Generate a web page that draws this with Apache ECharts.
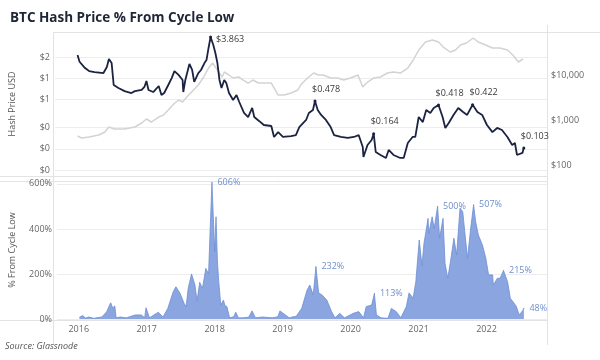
<!DOCTYPE html>
<html><head><meta charset="utf-8">
<script src="https://cdn.jsdelivr.net/npm/echarts@6/dist/echarts.min.js"></script>
<style>html,body{margin:0;padding:0;background:#fff}#c{width:600px;height:360px}</style>
</head><body><div id="c"></div>
<script>
// ---- data ----
const hashYears = [2016.01,2016.04,2016.12,2016.18,2016.26,2016.39,2016.44,2016.47,2016.51,2016.54,2016.61,2016.70,2016.80,2016.85,2016.95,2016.99,2017.02,2017.05,2017.12,2017.20,2017.24,2017.28,2017.34,2017.39,2017.43,2017.49,2017.55,2017.56,2017.59,2017.65,2017.69,2017.72,2017.78,2017.82,2017.87,2017.90,2017.93,2017.96,2018.00,2018.03,2018.06,2018.09,2018.12,2018.16,2018.19,2018.23,2018.29,2018.34,2018.38,2018.45,2018.51,2018.57,2018.60,2018.67,2018.74,2018.85,2018.89,2018.95,2019.02,2019.14,2019.21,2019.26,2019.28,2019.36,2019.40,2019.46,2019.49,2019.53,2019.58,2019.65,2019.72,2019.77,2019.87,2019.97,2020.06,2020.13,2020.19,2020.20,2020.26,2020.32,2020.35,2020.38,2020.45,2020.53,2020.57,2020.64,2020.74,2020.79,2020.85,2020.92,2020.96,2021.01,2021.07,2021.12,2021.18,2021.23,2021.30,2021.36,2021.40,2021.45,2021.52,2021.59,2021.66,2021.72,2021.80,2021.87,2021.94,2022.01,2022.09,2022.16,2022.23,2022.31,2022.38,2022.42,2022.45,2022.53,2022.55];
const hashValues = [2.15,1.72,1.40,1.27,1.23,1.19,1.45,1.88,1.65,0.805,0.73,0.66,0.62,0.66,0.685,0.755,0.92,0.685,0.64,0.78,0.58,0.62,0.805,1.01,1.27,1.12,0.95,0.64,0.95,1.60,1.315,0.89,1.19,1.315,1.65,1.82,2.70,3.863,2.98,2.29,1.65,0.95,0.73,0.95,0.86,0.62,0.493,0.58,0.462,0.323,0.283,0.38,0.283,0.249,0.218,0.211,0.1475,0.173,0.1475,0.152,0.157,0.204,0.204,0.257,0.323,0.356,0.478,0.356,0.303,0.257,0.204,0.157,0.1475,0.1427,0.1475,0.157,0.1064,0.0767,0.1135,0.1336,0.164,0.0903,0.0819,0.0743,0.0964,0.0819,0.0743,0.0743,0.121,0.1475,0.1475,0.283,0.24,0.356,0.323,0.38,0.418,0.283,0.198,0.233,0.303,0.38,0.334,0.303,0.422,0.334,0.303,0.218,0.173,0.198,0.185,0.1475,0.1135,0.121,0.0819,0.0875,0.103];
const btcYears = [2016.01,2016.07,2016.18,2016.32,2016.41,2016.47,2016.55,2016.70,2016.85,2016.95,2017.02,2017.09,2017.20,2017.27,2017.34,2017.42,2017.49,2017.55,2017.61,2017.71,2017.78,2017.85,2017.93,2017.99,2018.03,2018.09,2018.13,2018.16,2018.23,2018.29,2018.37,2018.44,2018.51,2018.58,2018.66,2018.74,2018.85,2018.95,2019.04,2019.14,2019.24,2019.28,2019.38,2019.47,2019.54,2019.61,2019.72,2019.82,2019.91,2020.01,2020.12,2020.19,2020.26,2020.35,2020.45,2020.55,2020.64,2020.74,2020.85,2020.93,2021.01,2021.11,2021.21,2021.30,2021.37,2021.47,2021.55,2021.62,2021.71,2021.81,2021.88,2021.99,2022.09,2022.20,2022.31,2022.39,2022.47,2022.54];
const btcValues = [441,398,419,464,541,699,631,631,699,858,1053,903,1166,1292,1668,2268,2783,2512,3246,4642,5995,8577,14300,18480,15060,11080,9030,11660,10000,8577,9030,7740,6640,7740,6640,6640,6640,3594,3594,3981,4642,5995,8577,11080,10000,10000,8577,8577,7740,8577,10000,5412,6988,8577,9030,11080,11660,11080,14300,21540,35940,54120,59950,54120,41870,32440,35940,46420,51400,66380,54120,46420,39810,39810,35940,27830,19450,22680];
const pctYears = [2016.01,2016.06,2016.10,2016.15,2016.22,2016.34,2016.41,2016.47,2016.50,2016.53,2016.55,2016.61,2016.70,2016.83,2016.92,2016.97,2016.99,2017.04,2017.17,2017.24,2017.31,2017.39,2017.43,2017.49,2017.55,2017.58,2017.61,2017.66,2017.71,2017.74,2017.78,2017.82,2017.87,2017.91,2017.94,2017.96,2018.00,2018.02,2018.04,2018.06,2018.09,2018.13,2018.15,2018.18,2018.22,2018.28,2018.31,2018.35,2018.41,2018.50,2018.55,2018.60,2018.70,2018.85,2018.93,2018.96,2019.04,2019.10,2019.14,2019.20,2019.28,2019.36,2019.40,2019.45,2019.49,2019.53,2019.58,2019.65,2019.72,2019.77,2019.84,2019.91,2020.04,2020.12,2020.19,2020.23,2020.31,2020.35,2020.38,2020.45,2020.55,2020.60,2020.67,2020.74,2020.82,2020.86,2020.92,2020.96,2021.01,2021.05,2021.08,2021.14,2021.15,2021.20,2021.23,2021.28,2021.31,2021.36,2021.39,2021.43,2021.47,2021.52,2021.56,2021.61,2021.65,2021.68,2021.72,2021.77,2021.81,2021.84,2021.88,2021.94,2021.99,2022.03,2022.09,2022.10,2022.16,2022.20,2022.25,2022.31,2022.35,2022.39,2022.44,2022.48,2022.53,2022.55];
const pctValues = [8,15,4,9,3,9,32,72,49,58,5,9,5,18,18,6,50,5,30,9,47,121,143,114,70,55,136,200,151,80,163,136,225,200,447,606,300,454,260,166,62,84,60,55,5,10,30,5,5,8,36,5,9,5,10,36,18,5,9,12,47,129,151,107,232,116,107,84,33,5,25,5,25,33,5,55,62,113,18,5,3,47,33,5,55,116,93,166,351,237,336,447,380,454,402,500,359,447,247,181,255,359,285,492,477,388,270,410,507,432,373,329,270,196,196,151,181,181,215,166,92,77,55,18,36,48];
const yearTicks = [2016,2017,2018,2019,2020,2021,2022];
const hashTicks = [0.05,0.1,0.2,0.5,1,2];
const btcTicks = [100,1000,10000];
const pctTicks = [0,200,400,600];
const hashLabelValues = [3.863,0.478,0.164,0.418,0.422,0.103];
const pctLabelValues = [606,232,113,500,507,215,48];

// ---- build ----
const zip = (xs, ys) => xs.map((x, i) => [x, ys[i]]);
const FONT = '"Open Sans", sans-serif';
const hashMarks = [];
hashYears.forEach((x, i) => {
  const v = hashValues[i];
  if (hashLabelValues.includes(v)) {
    const peak = v === hashLabelValues[0];
    hashMarks.push({
      coord: [x, v], value: v,
      label: peak ? {position: 'right', offset: [-1, 2]} : {position: 'top', align: 'left', offset: [-3, -1]}
    });
  }
});
const pctMarks = [];
pctYears.forEach((x, i) => {
  const v = pctValues[i];
  if (pctLabelValues.includes(v)) pctMarks.push({coord: [x, v], value: v});
});

const xCommon = {type: 'value', min: 2015.68, max: 2022.89, splitLine: {show: false},
  axisLine: {show: false}, axisTick: {show: false}};
const line = (x1, y1, x2, y2) => ({type: 'line', shape: {x1, y1, x2, y2}, silent: true,
  style: {stroke: '#e3e3e3', lineWidth: 1}});

const chart = echarts.init(document.getElementById('c'), null, {renderer: 'canvas'});
chart.setOption({
  animation: false,
  backgroundColor: '#fff',
  textStyle: {fontFamily: FONT},
  title: {text: 'BTC Hash Price % From Cycle Low', left: 5, top: 6,
    textStyle: {fontFamily: FONT, fontSize: 13.5, fontWeight: 'bold', color: '#1e2636'}},
  graphic: [
    line(53.5, 32, 53.5, 345), line(547.5, 25, 547.5, 345),
    line(53, 32.5, 600, 32.5), line(0, 176.5, 547, 176.5), line(0, 181.5, 547, 181.5),
    line(0, 320.5, 547, 320.5),
    {type: 'text', left: 5, top: 342, silent: true,
     style: {text: 'Source: Glassnode', font: 'italic 9px "Open Sans", sans-serif', fill: '#555'}}
  ],
  grid: [
    {left: 53, right: 53, top: 32, height: 144},
    {left: 53, right: 53, top: 181, height: 138}
  ],
  xAxis: [
    Object.assign({gridIndex: 0, axisLabel: {show: false}}, xCommon),
    Object.assign({gridIndex: 1, axisLabel: {show: true, customValues: yearTicks, color: '#666', fontSize: 9, margin: 6,
      formatter: v => String(Math.round(v))}}, xCommon)
  ],
  yAxis: [
    {type: 'log', gridIndex: 0, min: 0.0412, max: 4.55, logBase: 10,
     name: 'Hash Price USD', nameLocation: 'middle', nameGap: 38, nameRotate: 90,
     nameTextStyle: {fontSize: 9, color: '#555'},
     axisLine: {show: false}, axisTick: {show: false, customValues: hashTicks},
     axisLabel: {customValues: hashTicks, color: '#666', fontSize: 9, margin: 5, formatter: v => '$' + Math.round(v)},
     splitLine: {show: true, lineStyle: {color: '#ededed', width: 1}}},
    {type: 'log', gridIndex: 0, position: 'right', min: 57, max: 90300, logBase: 10,
     axisLine: {show: false}, axisTick: {show: false, customValues: btcTicks},
     axisLabel: {customValues: btcTicks, color: '#666', fontSize: 9, margin: 4,
       formatter: v => '$' + Math.round(v).toLocaleString('en-US')},
     splitLine: {show: false}},
    {type: 'value', gridIndex: 1, min: 0, max: 613,
     name: '% From Cycle Low', nameLocation: 'middle', nameGap: 40, nameRotate: 90,
     nameTextStyle: {fontSize: 9, color: '#555'},
     axisLine: {show: false}, axisTick: {show: false, customValues: pctTicks},
     axisLabel: {customValues: pctTicks, color: '#666', fontSize: 9, margin: 5, formatter: v => v + '%'},
     splitLine: {show: true, lineStyle: {color: '#ededed', width: 1}}}
  ],
  series: [
    {type: 'line', name: 'BTC Price', xAxisIndex: 0, yAxisIndex: 1, data: zip(btcYears, btcValues),
     showSymbol: false, lineStyle: {color: '#d3d3d3', width: 1.5}, z: 1},
    {type: 'line', name: 'Hash Price', xAxisIndex: 0, yAxisIndex: 0, data: zip(hashYears, hashValues),
     showSymbol: false, lineStyle: {color: '#1b2341', width: 1.8}, z: 3,
     markPoint: {symbol: 'circle', symbolSize: 3, itemStyle: {color: '#1b2341'},
       label: {show: true, color: '#3a3a3a', fontSize: 9, formatter: p => '$' + p.value.toFixed(3)},
       data: hashMarks}},
    {type: 'line', name: '% From Cycle Low', xAxisIndex: 1, yAxisIndex: 2, data: zip(pctYears, pctValues),
     showSymbol: false, lineStyle: {color: '#6d8ed3', width: 0.8},
     areaStyle: {color: '#8aa5e0', opacity: 1}, z: 2,
     markPoint: {symbol: 'circle', symbolSize: 1, itemStyle: {color: '#6d8ed3'},
       label: {show: true, position: 'right', offset: [0, 0], color: '#6f8ecb', fontSize: 9, formatter: p => p.value + '%'},
       data: pctMarks}}
  ]
});
</script></body></html>
